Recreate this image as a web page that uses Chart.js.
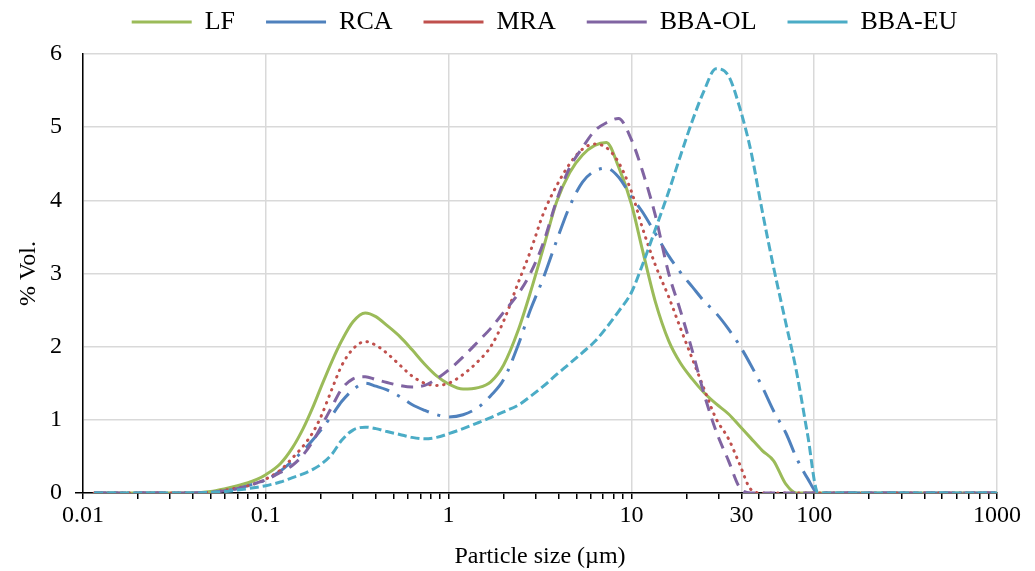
<!DOCTYPE html>
<html>
<head>
<meta charset="utf-8">
<script src="https://cdn.jsdelivr.net/npm/chart.js@4.4.1/dist/chart.umd.min.js"></script>
<style>
html,body{margin:0;padding:0;background:#fff;}
#wrap{width:1035px;height:571px;position:relative;}
</style>
</head>
<body>
<div id="wrap"><canvas id="c" width="1035" height="571"></canvas></div>
<script>
// ---- data ----
const sizes = [0.0115,0.02,0.03,0.04,0.05,0.06,0.07,0.08,0.09,0.1,0.12,0.14,0.16,0.18,0.2,0.23,0.26,0.3,0.35,0.4,0.46,0.54,0.63,0.74,0.86,1.0,1.2,1.45,1.7,2.0,2.4,2.8,3.3,3.9,4.6,5.4,6.3,7.3,8.5,10,11.5,13.5,16,18.5,21.5,25,29,34,39,45,52,60,70,80,92,105,120,200,500,1000];
const lf    = [0,0,0,0,0.02,0.06,0.10,0.14,0.19,0.25, 0.40,0.62,0.88,1.16,1.44,1.80,2.08,2.34,2.46,2.41, 2.29,2.14,1.96,1.76,1.60,1.49,1.42,1.44,1.52,1.75, 2.22,2.74,3.35,3.98,4.38,4.62,4.75,4.79,4.46,3.95, 3.32,2.62,2.08,1.78,1.56,1.37,1.22,1.08,0.92,0.75, 0.58,0.44,0.12,0,0,0,0,0,0,0];
const rca   = [0,0,0,0,0.01,0.03,0.06,0.10,0.14,0.18, 0.30,0.44,0.58,0.72,0.86,1.06,1.25,1.41,1.50,1.46, 1.41,1.32,1.21,1.13,1.07,1.04,1.07,1.17,1.33,1.55, 2.02,2.50,2.94,3.45,3.92,4.25,4.40,4.44,4.32,4.05, 3.84,3.55,3.24,3.02,2.82,2.62,2.46,2.24,2.02,1.75, 1.45,1.12,0.82,0.48,0.20,0,0,0,0,0];
const mra   = [0,0,0,0,0.01,0.04,0.07,0.10,0.14,0.19, 0.31,0.48,0.64,0.82,1.04,1.42,1.74,1.97,2.07,2.02, 1.91,1.75,1.60,1.50,1.47,1.50,1.62,1.80,2.00,2.35, 2.87,3.30,3.82,4.20,4.50,4.70,4.77,4.72,4.52,4.12, 3.62,3.12,2.68,2.26,1.84,1.42,1.02,0.74,0.40,0.05, 0,0,0,0,0,0,0,0,0,0];
const bbaOL = [0,0,0,0,0.01,0.03,0.06,0.10,0.14,0.18, 0.28,0.38,0.52,0.70,0.90,1.18,1.42,1.56,1.59,1.55, 1.51,1.47,1.45,1.47,1.56,1.68,1.86,2.07,2.25,2.47, 2.72,3.00,3.42,4.00,4.45,4.72,4.95,5.06,5.12,4.83, 4.40,3.80,3.00,2.50,1.95,1.35,0.85,0.44,0.08,0, 0,0,0,0,0,0,0,0,0,0];
const bbaEU = [0,0,0,0,0.01,0.02,0.04,0.06,0.08,0.10, 0.15,0.21,0.26,0.32,0.39,0.53,0.72,0.86,0.90,0.88, 0.84,0.80,0.76,0.74,0.76,0.81,0.88,0.96,1.03,1.11, 1.20,1.32,1.46,1.62,1.77,1.92,2.07,2.26,2.48,2.74, 3.12,3.60,4.12,4.60,5.08,5.50,5.80,5.70,5.28,4.68, 3.85,3.08,2.32,1.66,0.80,0,0,0,0,0];
const seriesNames = ['LF','RCA','MRA','BBA-OL','BBA-EU'];
const yTickValues = [0,1,2,3,4,5,6];
const xLabelValues = [0.01,0.1,1,10,40,100,1000];
const xLabelTexts  = ['0.01','0.1','1','10','30','100','1000'];
const xTitle = 'Particle size (µm)';
const yTitle = '% Vol.';

// ---- tick positions (every 1..9 multiple of each decade) ----
const xTickValues = [];
[0.01,0.1,1,10,100].forEach(d => { for (let m = 1; m <= 9; m++) xTickValues.push(+(d*m).toPrecision(6)); });
xTickValues.push(1000);
function labelIndex(v){
  for (let i=0;i<xLabelValues.length;i++){ if (Math.abs(Math.log10(v)-Math.log10(xLabelValues[i]))<1e-6) return i; }
  return -1;
}

const FONT = "'Liberation Serif','Times New Roman',serif";
Chart.defaults.font.family = FONT;
Chart.defaults.color = '#000';

function mk(i, data, color, dash, cap, order){
  return {
    label: seriesNames[i],
    data: sizes.map((s,k)=>({x:s, y:data[k]})),
    borderColor: color, backgroundColor: color,
    borderWidth: 3, borderDash: dash, borderCapStyle: cap,
    pointRadius: 0, pointHoverRadius: 0, pointStyle: 'line',
    cubicInterpolationMode: 'monotone', fill: false, order: order
  };
}

const LEG_DX = 46, LEG_DY = -22;
const legendTweak = {
  id: 'legendTweak',
  afterInit(chart){
    const lg = chart.legend; if (!lg) return;
    const fit = lg.fit;
    lg.fit = function(){ fit.call(this); this.height = 54; };
    const draw = lg.draw;
    lg.draw = function(){ const c=this.ctx; c.save(); c.translate(LEG_DX, LEG_DY); draw.call(this); c.restore(); };
  }
};

new Chart(document.getElementById('c'), {
  type: 'line',
  data: {
    datasets: [
      mk(0, lf,    '#9BBB59', [],            'butt',  5),
      mk(1, rca,   '#4F81BD', [24,9,3,9],    'butt',  4),
      mk(2, mra,   '#C0504D', [0.5,6.5],     'round', 3),
      mk(3, bbaOL, '#8064A2', [12,8],        'butt',  2),
      mk(4, bbaEU, '#4BACC6', [9,4],         'butt',  1)
    ]
  },
  plugins: [legendTweak],
  options: {
    responsive: false, animation: false, devicePixelRatio: 1,
    layout: { padding: { left: 0, right: 38, top: 0, bottom: 0 } },
    plugins: {
      legend: {
        position: 'top', align: 'center',
        labels: {
          usePointStyle: true, pointStyleWidth: 60, padding: 31,
          font: { size: 26, family: FONT }, color: '#000',
          sort: (a,b) => a.datasetIndex - b.datasetIndex
        }
      },
      tooltip: { enabled: false }
    },
    scales: {
      x: {
        type: 'logarithmic', min: 0.01, max: 1000,
        afterBuildTicks: s => { s.ticks = xTickValues.map(v => ({ value: v })); },
        afterFit: s => { s.height = 78; },
        ticks: {
          autoSkip: false, maxRotation: 0, minRotation: 0, padding: 2,
          font: { size: 24 }, color: '#000',
          callback: v => { const i = labelIndex(v); return i >= 0 ? xLabelTexts[i] : ''; }
        },
        grid: {
          color: c => (c.tick && labelIndex(c.tick.value) >= 0) ? '#D9D9D9' : 'rgba(0,0,0,0)',
          lineWidth: 1.5, tickColor: '#000', tickLength: 6, tickWidth: 1.5, drawTicks: true
        },
        border: { color: '#000', width: 1.5 },
        title: { display: true, text: xTitle, font: { size: 24 }, color: '#000', padding: { top: 0, bottom: 0 } }
      },
      y: {
        min: 0, max: 6,
        afterBuildTicks: s => { s.ticks = yTickValues.map(v => ({ value: v })); },
        afterFit: s => { s.width = 83; },
        ticks: { padding: 13, font: { size: 24 }, color: '#000' },
        grid: {
          color: '#D9D9D9', lineWidth: 1.5,
          tickColor: c => (c.tick && c.tick.value === 0) ? '#000' : 'rgba(0,0,0,0)',
          tickLength: 8, tickWidth: 1.5
        },
        border: { color: '#000', width: 1.5 },
        title: { display: true, text: yTitle, font: { size: 24 }, color: '#000', padding: { top: 14, bottom: 0 } }
      }
    }
  }
});
</script>
</body>
</html>
